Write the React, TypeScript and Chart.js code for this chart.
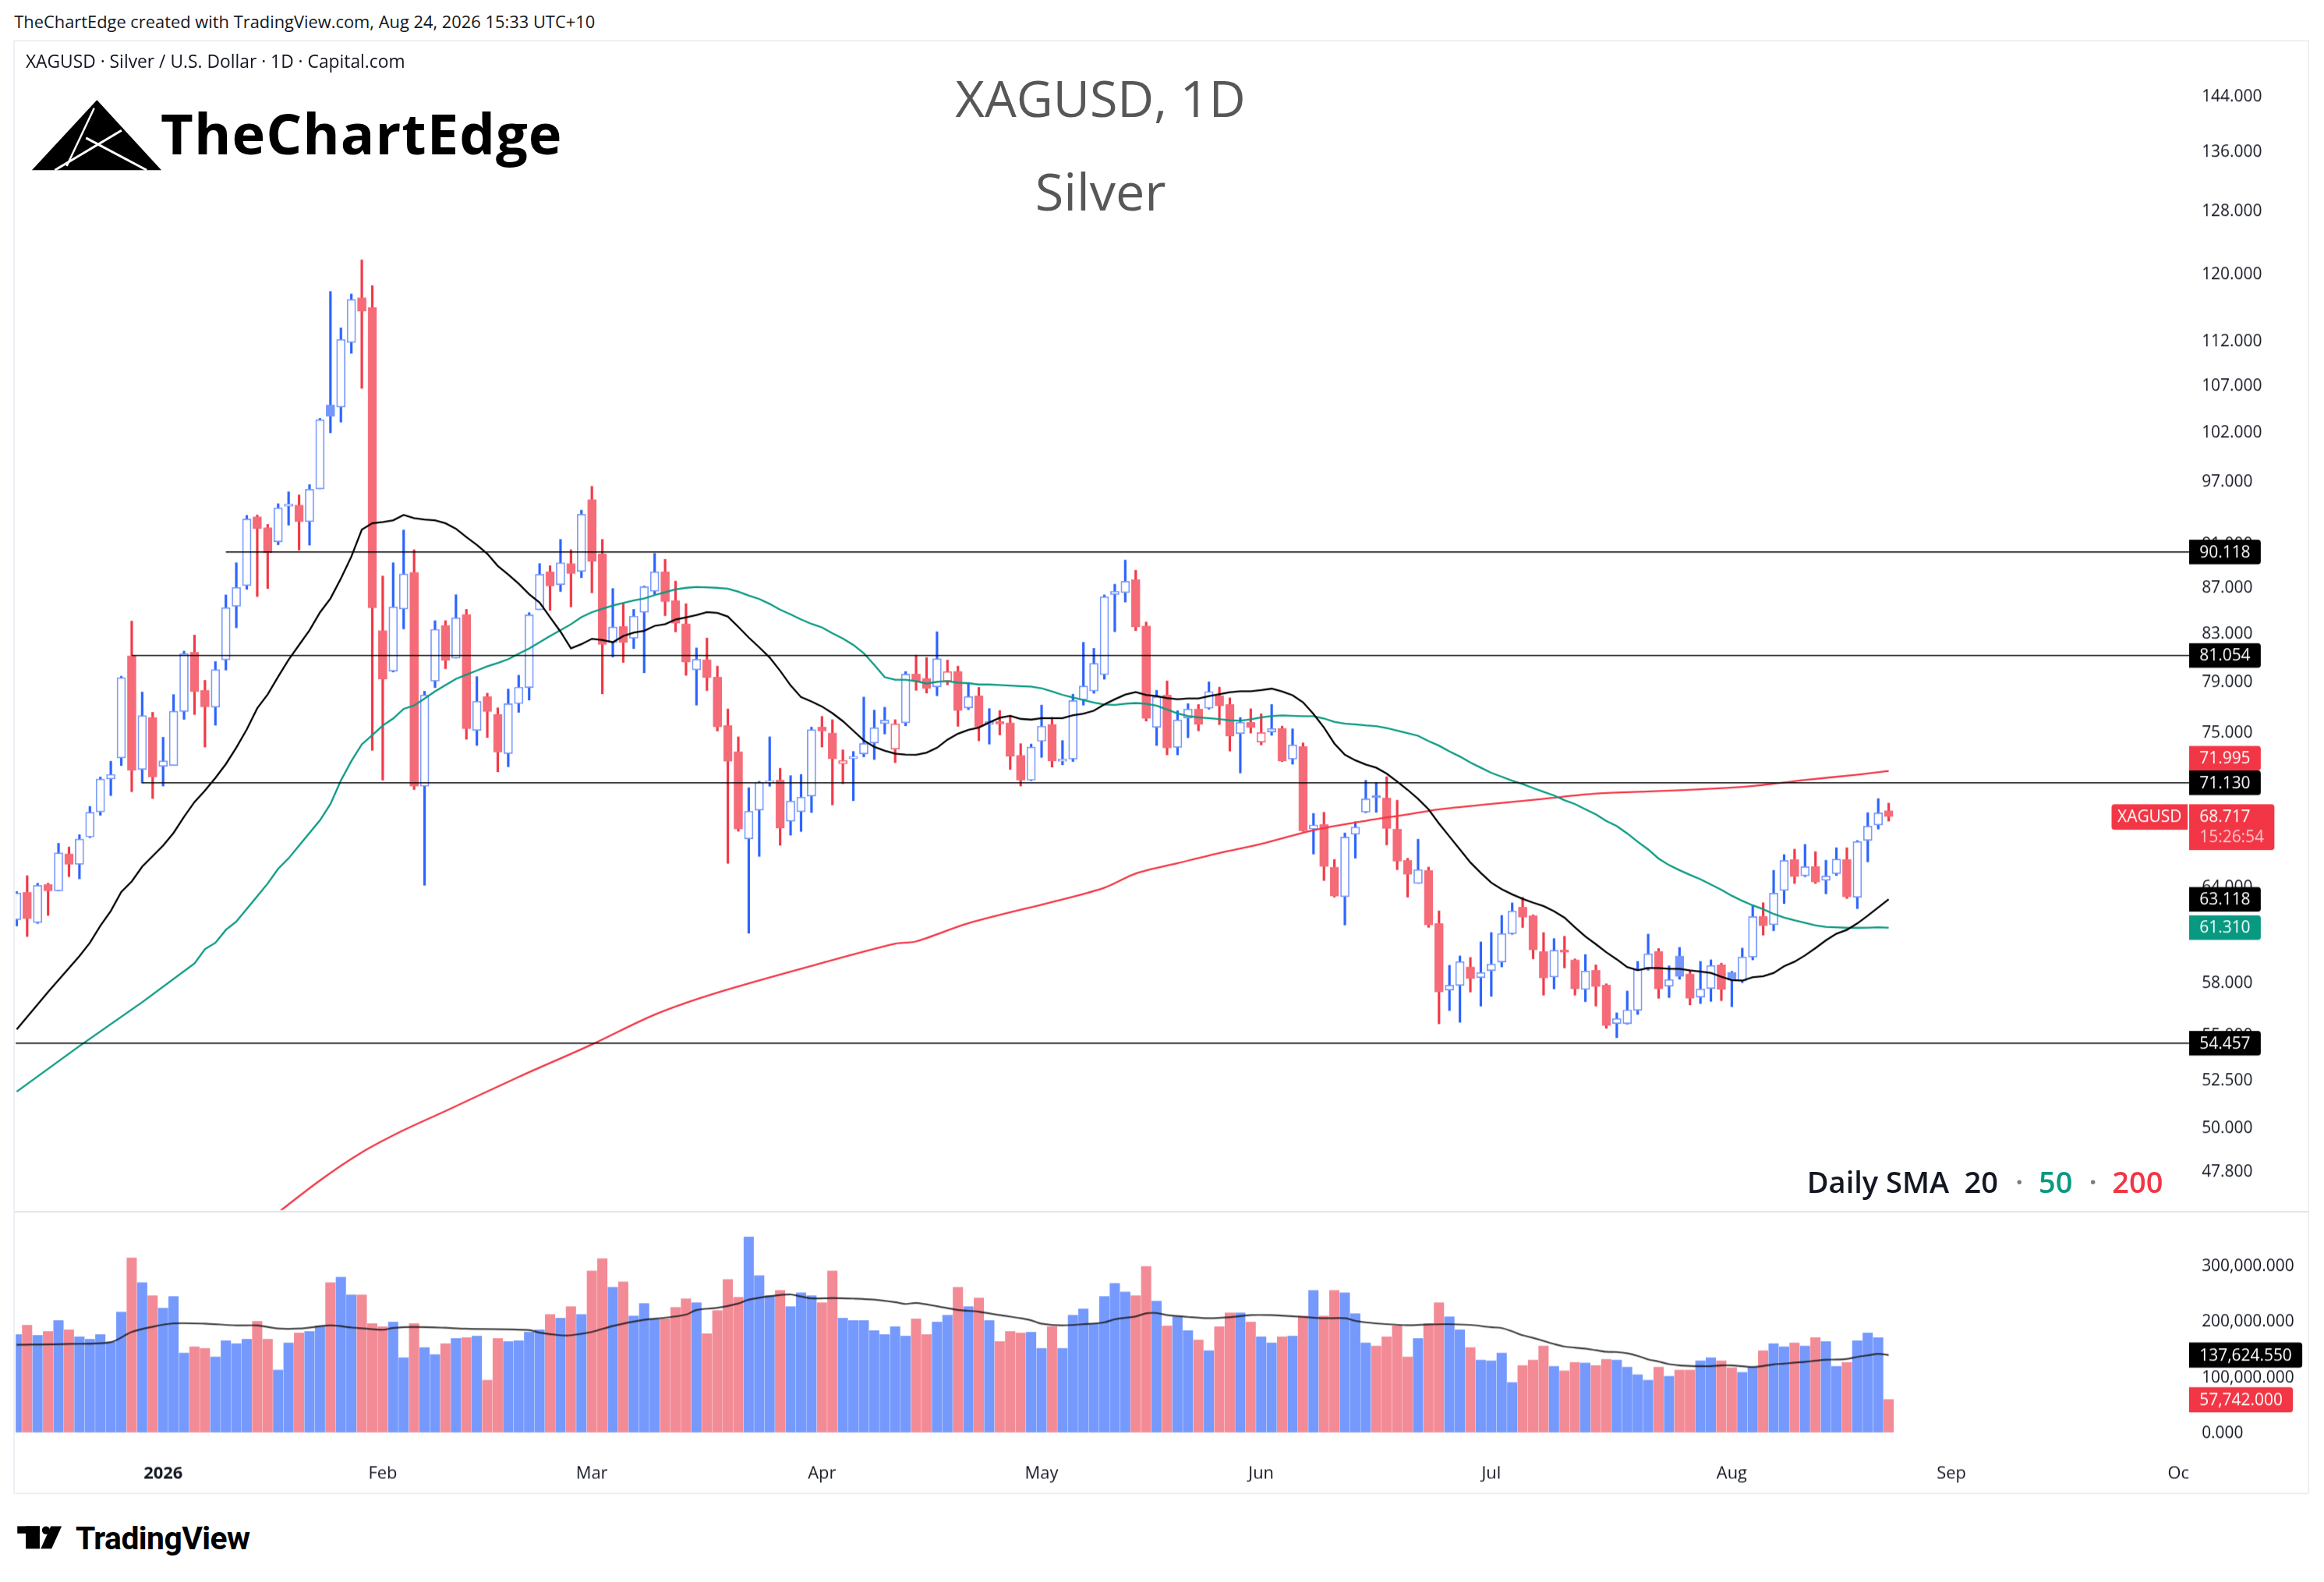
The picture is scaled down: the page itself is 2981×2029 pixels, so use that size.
import React, { useEffect, useRef } from 'react';
import { Chart, registerables } from 'chart.js';

Chart.register(...registerables);

const SCALE = 2981 / 1568;
const FONT = '"Open Sans", "DejaVu Sans", sans-serif';

// ---------- data ----------
const firstTradingDay = '2025-12-11';
const holidays = ['2025-12-25', '2026-01-01', '2026-04-03'];
const monthNames = ['Jan', 'Feb', 'Mar', 'Apr', 'May', 'Jun', 'Jul', 'Aug', 'Sep', 'Oct', 'Nov', 'Dec'];
const symbolName = 'XAGUSD';
const countdownText = '15:26:54';

const openP = [
  61.83, 63.57, 61.64, 64.07, 63.68, 66.12, 65.44, 67.30, 69.05, 71.42,
  72.98, 81.01, 72.13, 76.05, 72.36, 72.42, 76.54, 81.30, 78.19, 76.88,
  80.70, 85.26, 87.09, 93.41, 92.37, 91.10, 94.47, 94.55, 93.00, 96.16,
  104.77, 104.58, 111.75, 116.94, 115.79, 83.12, 79.77, 85.02, 88.25, 70.89,
  78.96, 83.58, 80.84, 84.52, 75.07, 77.69, 76.30, 73.30, 77.16, 78.45,
  84.95, 88.29, 87.18, 89.04, 88.37, 95.07, 89.93, 82.16, 83.47, 82.52,
  84.73, 86.59, 88.30, 85.72, 83.70, 79.89, 80.68, 79.26, 75.43, 73.42,
  67.17, 69.18, 71.14, 71.31, 68.39, 69.07, 70.18, 75.30, 74.85, 72.54,
  72.93, 73.29, 74.11, 75.59, 73.64, 75.66, 79.50, 79.15, 78.50, 78.97,
  79.72, 76.83, 77.74, 75.55, 75.61, 75.63, 73.14, 71.33, 74.24, 75.51,
  72.73, 72.89, 77.47, 78.17, 79.49, 86.29, 86.47, 87.60, 83.52, 75.31,
  77.82, 73.77, 76.03, 76.70, 76.80, 77.74, 77.06, 74.83, 75.67, 74.18,
  74.95, 75.21, 72.89, 73.81, 67.84, 68.13, 65.22, 63.30, 67.48, 69.04,
  70.10, 70.02, 67.82, 65.69, 64.17, 65.00, 61.57, 57.52, 57.80, 58.88,
  58.26, 58.68, 59.20, 60.94, 62.60, 62.05, 59.81, 58.30, 59.91, 59.31,
  57.56, 58.68, 57.80, 55.58, 55.58, 56.34, 58.83, 59.83, 57.75, 59.54,
  58.46, 57.11, 57.61, 59.00, 58.55, 58.05, 59.50, 62.02, 61.51, 63.71,
  65.74, 64.67, 65.27, 64.37, 64.81, 65.74, 63.26, 67.06, 68.13, 69.11,
];
const highP = [
  63.60, 64.65, 64.15, 64.15, 66.84, 66.58, 67.42, 69.41, 71.54, 72.70,
  79.32, 83.94, 78.05, 76.44, 74.52, 77.85, 81.40, 82.75, 79.00, 80.53,
  86.22, 89.11, 93.54, 93.58, 92.69, 94.68, 95.83, 95.54, 96.55, 103.34,
  117.70, 113.39, 117.39, 121.58, 118.40, 87.91, 89.12, 92.15, 90.31, 78.12,
  83.98, 83.98, 86.23, 84.95, 79.30, 77.96, 76.79, 78.29, 79.40, 84.66,
  89.04, 88.85, 91.28, 90.31, 94.06, 96.38, 91.28, 86.79, 85.46, 84.95,
  87.01, 89.98, 89.44, 87.45, 85.45, 81.66, 82.50, 80.15, 76.71, 74.55,
  70.76, 71.22, 74.55, 72.19, 71.63, 71.72, 75.30, 76.12, 75.87, 73.55,
  73.44, 77.64, 76.62, 76.85, 75.87, 79.71, 81.05, 80.87, 83.02, 80.66,
  80.15, 78.69, 78.42, 76.74, 76.59, 76.21, 74.02, 74.00, 77.02, 76.03,
  74.26, 77.88, 82.14, 81.62, 86.22, 87.18, 89.36, 88.44, 83.86, 78.19,
  78.94, 76.57, 77.12, 77.06, 78.86, 78.44, 77.59, 76.03, 76.72, 76.33,
  77.06, 75.37, 75.15, 74.09, 68.91, 69.00, 65.74, 67.55, 68.34, 71.30,
  71.15, 71.55, 69.85, 65.82, 67.12, 65.22, 62.36, 58.97, 59.54, 59.45,
  60.41, 60.99, 62.07, 62.87, 63.24, 62.11, 60.99, 60.61, 60.76, 59.37,
  59.63, 59.00, 57.87, 56.17, 57.44, 59.21, 60.89, 60.00, 58.94, 60.07,
  58.66, 59.21, 59.31, 59.10, 58.61, 60.02, 62.75, 62.88, 65.01, 66.07,
  66.43, 66.75, 66.27, 65.69, 66.53, 66.53, 67.03, 68.97, 69.97, 69.65,
];
const lowP = [
  61.43, 60.77, 61.59, 62.10, 63.68, 64.62, 64.48, 67.25, 68.81, 70.22,
  72.42, 70.50, 71.13, 70.01, 70.91, 72.42, 75.93, 76.31, 73.81, 75.47,
  79.86, 83.40, 86.75, 86.11, 86.83, 90.82, 92.65, 90.31, 90.78, 96.16,
  101.87, 102.99, 110.52, 106.62, 73.55, 71.34, 79.71, 83.30, 70.65, 64.05,
  78.45, 79.98, 80.84, 74.40, 73.92, 74.53, 71.96, 72.33, 76.47, 77.45,
  84.95, 84.91, 86.57, 85.21, 87.81, 86.45, 77.95, 80.94, 80.49, 81.64,
  79.64, 86.33, 84.45, 83.05, 79.43, 77.04, 78.20, 75.03, 65.50, 67.70,
  60.98, 65.97, 70.90, 66.73, 67.43, 67.68, 69.01, 73.80, 69.55, 71.08,
  69.85, 73.07, 72.87, 74.80, 72.63, 75.43, 78.23, 78.01, 77.78, 78.67,
  75.39, 76.69, 74.28, 74.02, 74.73, 72.12, 70.91, 71.29, 73.03, 72.30,
  72.47, 72.72, 77.04, 77.99, 79.12, 83.08, 85.63, 83.15, 75.79, 73.92,
  73.22, 73.22, 74.51, 75.04, 76.72, 75.52, 73.50, 71.86, 74.87, 73.97,
  74.70, 72.70, 72.51, 67.68, 66.13, 64.36, 63.28, 61.49, 65.86, 68.99,
  69.02, 66.76, 65.08, 63.28, 64.17, 61.34, 55.56, 56.32, 55.65, 57.41,
  56.59, 57.15, 58.91, 60.90, 61.33, 59.40, 57.22, 57.59, 58.85, 57.22,
  56.85, 56.59, 55.31, 54.78, 55.54, 56.10, 58.70, 57.04, 57.09, 58.17,
  56.65, 56.73, 56.86, 56.90, 56.55, 57.96, 59.33, 60.86, 61.14, 62.86,
  64.17, 64.61, 64.17, 63.49, 64.70, 63.19, 62.53, 65.60, 67.85, 68.40,
];
const closeP = [
  63.51, 61.88, 64.01, 63.68, 66.18, 65.44, 67.13, 68.99, 71.39, 71.73,
  79.21, 72.07, 76.18, 71.57, 72.73, 76.54, 81.19, 78.12, 76.91, 79.86,
  85.11, 86.90, 93.21, 92.33, 90.08, 94.27, 94.51, 93.00, 96.08, 103.20,
  103.60, 112.04, 116.74, 115.40, 85.13, 79.13, 85.17, 88.10, 70.89, 77.82,
  83.23, 80.67, 84.23, 75.20, 77.32, 76.53, 73.42, 77.12, 78.45, 84.48,
  88.06, 87.05, 89.12, 88.17, 93.66, 89.27, 81.99, 83.44, 82.16, 84.37,
  86.94, 88.30, 85.68, 83.80, 80.52, 80.71, 79.24, 75.34, 72.74, 67.84,
  69.07, 71.16, 71.20, 67.92, 69.80, 70.08, 75.10, 75.02, 72.91, 72.76,
  72.98, 74.04, 75.25, 75.84, 75.54, 79.50, 78.91, 78.37, 80.76, 79.70,
  76.62, 77.69, 75.37, 75.73, 75.57, 73.11, 71.33, 73.77, 75.37, 72.76,
  72.78, 77.37, 78.54, 80.38, 86.06, 86.54, 87.44, 83.48, 76.01, 77.68,
  73.73, 75.85, 76.70, 75.53, 78.09, 76.98, 74.63, 75.67, 75.29, 74.87,
  75.19, 72.76, 73.94, 67.73, 68.11, 65.29, 63.34, 67.26, 67.96, 69.95,
  70.06, 67.89, 65.65, 64.77, 65.05, 61.49, 57.41, 57.78, 59.20, 58.20,
  58.54, 59.05, 60.92, 62.35, 61.98, 59.94, 58.24, 59.89, 59.80, 57.59,
  58.63, 57.73, 55.47, 55.84, 56.34, 58.73, 59.67, 57.59, 58.12, 58.33,
  57.04, 57.56, 58.96, 57.55, 58.12, 59.48, 62.00, 61.44, 63.50, 65.67,
  64.61, 65.25, 64.25, 64.63, 65.76, 63.29, 66.96, 68.02, 68.95, 68.717,
];
// volume in millions
const volumeM = [
  174.0, 190.6, 172.6, 179.5, 198.9, 182.3, 169.8, 165.7, 174.0, 160.6,
  214.1, 311.1, 266.7, 243.2, 221.1, 241.8, 140.8, 151.8, 149.1, 133.8,
  162.9, 157.4, 165.7, 197.5, 165.7, 110.3, 158.8, 176.8, 179.5, 188.8,
  266.7, 276.4, 244.6, 244.6, 193.4, 187.8, 196.1, 132.5, 193.4, 150.4,
  138.0, 157.4, 167.1, 168.4, 171.2, 92.3, 167.1, 161.5, 162.9, 178.1,
  182.3, 210.0, 203.1, 223.8, 210.0, 287.5, 309.7, 258.4, 268.1, 207.2,
  229.4, 201.7, 201.7, 222.4, 237.7, 230.8, 175.4, 216.9, 272.3, 240.4,
  348.4, 279.2, 243.7, 252.9, 223.8, 248.7, 243.2, 230.8, 287.5, 203.1,
  198.9, 198.9, 180.9, 174.0, 187.8, 171.2, 201.7, 174.0, 196.1, 208.6,
  258.4, 223.8, 239.1, 198.9, 161.5, 179.5, 176.8, 178.1, 149.1, 187.8,
  149.1, 208.6, 219.7, 193.4, 241.8, 265.4, 250.1, 243.2, 295.8, 233.5,
  189.2, 205.8, 180.9, 164.3, 144.9, 187.8, 212.8, 212.8, 196.1, 169.8,
  158.8, 169.8, 171.2, 207.2, 252.9, 207.2, 252.9, 248.7, 211.4, 158.8,
  153.2, 169.8, 189.2, 133.8, 167.1, 193.4, 230.8, 205.8, 182.3, 150.4,
  128.3, 126.9, 140.8, 88.1, 118.6, 128.3, 153.2, 117.2, 108.9, 124.1,
  122.8, 118.6, 129.7, 128.3, 115.8, 102.0, 92.3, 115.8, 99.2, 110.3,
  110.3, 126.9, 132.5, 126.9, 114.5, 106.1, 115.8, 144.9, 157.4, 151.8,
  158.8, 153.2, 168.4, 161.5, 117.2, 124.1, 162.9, 176.8, 168.4, 57.742,
];
const sma20 = [
  55.24, null, null, 57.4, null, null, 59.55, 60.37, 61.43, 62.37,
  63.60, 64.29, 65.27, 65.98, 66.70, 67.57, 68.69, 69.74, 70.56, 71.49,
  72.51, 73.74, 75.13, 76.78, 77.88, 79.31, 80.70, 81.93, 83.18, 84.71,
  85.93, 87.70, 89.70, 92.22, 92.82, 92.94, 93.10, 93.62, 93.30, 93.18,
  93.10, 92.82, 92.30, 91.51, 90.78, 89.96, 88.85, 88.06, 87.24, 86.31,
  85.57, 84.30, 83.05, 81.64, 82.00, 82.45, 82.34, 82.16, 82.69, 82.98,
  83.13, 83.55, 83.69, 84.10, 84.28, 84.48, 84.74, 84.66, 84.35, 83.47,
  82.55, 81.73, 80.88, 79.79, 78.60, 77.66, 77.31, 76.92, 76.39, 75.77,
  75.03, 74.29, 73.80, 73.51, 73.29, 73.22, 73.20, 73.36, 73.73, 74.35,
  74.80, 75.10, 75.28, 75.67, 76.03, 76.19, 75.95, 75.89, 76.01, 76.01,
  76.01, 76.23, 76.35, 76.59, 77.08, 77.49, 77.86, 78.07, 77.84, 77.74,
  77.59, 77.49, 77.55, 77.55, 77.74, 77.90, 78.05, 78.13, 78.13, 78.22,
  78.34, 78.11, 77.81, 77.25, 76.33, 75.28, 74.05, 73.20, 72.79, 72.47,
  72.24, 71.80, 71.22, 70.62, 69.97, 69.22, 68.22, 67.32, 66.43, 65.55,
  64.85, 64.20, 63.78, 63.44, 63.15, 62.90, 62.68, 62.35, 61.94, 61.33,
  60.76, 60.28, 59.78, 59.35, 58.88, 58.69, 58.82, 58.82, 58.77, 58.77,
  58.68, 58.61, 58.53, 58.30, 58.10, 58.07, 58.27, 58.33, 58.53, 58.93,
  59.21, 59.59, 60.04, 60.52, 60.93, 61.17, 61.58, 62.07, 62.60, 63.118,
];
const sma50 = [
  51.82, null, null, null, null, null, 54.30, null, null, null,
  null, null, 56.80, null, null, null, null, 59.10, 59.98, 60.37,
  61.17, 61.70, 62.50, 63.32, 64.15, 65.13, 65.83, 66.70, 67.57, 68.45,
  69.60, 71.30, 72.73, 73.99, 74.69, 75.43, 75.98, 76.73, 77.00, 77.55,
  78.12, 78.62, 79.13, 79.47, 79.81, 80.15, 80.43, 80.74, 81.19, 81.64,
  82.16, 82.69, 83.19, 83.69, 84.30, 84.73, 85.02, 85.31, 85.53, 85.75,
  85.93, 86.23, 86.48, 86.74, 86.87, 86.95, 86.92, 86.87, 86.79, 86.53,
  86.19, 85.89, 85.45, 84.94, 84.54, 84.10, 83.72, 83.42, 82.92, 82.47,
  81.93, 81.24, 80.27, 79.27, 79.06, 79.06, 78.94, 78.75, 78.89, 78.94,
  78.82, 78.78, 78.67, 78.67, 78.63, 78.58, 78.54, 78.50, 78.37, 78.11,
  77.84, 77.63, 77.43, 77.23, 77.08, 77.04, 77.14, 77.19, 77.14, 76.98,
  76.68, 76.37, 76.17, 76.07, 76.01, 75.93, 75.83, 75.81, 75.91, 76.07,
  76.17, 76.21, 76.18, 76.15, 76.15, 75.98, 75.72, 75.58, 75.52, 75.44,
  75.38, 75.24, 75.04, 74.84, 74.64, 74.24, 73.89, 73.46, 73.07, 72.62,
  72.24, 71.86, 71.57, 71.28, 71.04, 70.75, 70.47, 70.21, 69.87, 69.60,
  69.22, 68.86, 68.40, 68.04, 67.53, 66.96, 66.43, 65.81, 65.37, 65.03,
  64.72, 64.43, 64.08, 63.74, 63.35, 63.02, 62.73, 62.48, 62.18, 61.95,
  61.77, 61.61, 61.46, 61.36, 61.33, 61.30, 61.30, 61.31, 61.33, 61.31,
];
const sma200Idx = [24, 29, 33, 37, 41, 48, 55, 61, 67, 77, 84, 86, 91, 100, 104, 107, 111, 115, 119, 124, 129, 133, 136, 141, 146, 151, 156, 161, 166, 171, 176, 179];
const sma200Val = [45.40, 47.31, 48.69, 49.81, 50.80, 52.61, 54.39, 56.08, 57.36, 59.13, 60.31, 60.45, 61.59, 63.11, 63.87, 64.81, 65.50, 66.19, 66.81, 67.75, 68.41, 68.86, 69.22, 69.60, 69.97, 70.34, 70.50, 70.66, 70.90, 71.34, 71.72, 71.995];
const volMaIdx = [
  0, 5, 9, 11, 13, 15, 18, 21, 23, 25, 27, 30, 32, 35, 36, 38, 41, 43, 49, 50,
  52, 53, 55, 57, 60, 62, 64, 65, 67, 69, 70, 72, 74, 75, 76, 78, 80, 82, 84, 85,
  86, 88, 90, 92, 94, 96, 97, 98, 100, 102, 104, 105, 107, 108, 109, 110, 112, 114, 116, 118,
  120, 121, 123, 125, 127, 128, 129, 131, 133, 135, 137, 139, 141, 142, 143, 144, 145, 146, 147, 148,
  149, 150, 151, 152, 153, 154, 155, 156, 157, 158, 159, 160, 161, 162, 163, 164, 165, 166, 167, 168,
  169, 170, 171, 172, 173, 174, 175, 176, 177, 178, 179,
];
const volMaVal = [
  156.0, 157.5, 160.6, 179.0, 188.3, 194.3, 193.8, 190.6, 190.6, 185.0, 185.0, 190.6, 187.0, 182.8, 186.0, 187.8, 186.4, 184.6, 182.3, 177.7,
  173.0, 173.0, 179.0, 189.7, 200.7, 204.4, 210.0, 218.3, 222.0, 229.8, 236.7, 242.7, 246.0, 242.3, 239.0, 239.5, 238.6, 236.7, 232.1, 228.9,
  230.8, 224.8, 218.3, 215.1, 209.1, 203.5, 199.8, 193.8, 190.6, 192.9, 196.1, 201.7, 206.8, 212.3, 212.8, 209.1, 205.8, 203.5, 205.4, 209.1,
  209.1, 208.1, 205.8, 203.5, 203.5, 198.9, 196.1, 192.9, 191.1, 192.4, 192.9, 191.5, 187.4, 186.0, 180.0, 173.0, 168.4, 162.9, 157.4, 152.8,
  150.9, 149.1, 146.3, 143.5, 143.0, 140.8, 136.1, 129.7, 126.0, 121.4, 119.1, 118.1, 117.7, 117.7, 119.1, 119.1, 117.7, 116.3, 118.1, 120.9,
  122.3, 124.1, 125.5, 127.4, 129.2, 129.5, 130.6, 134.3, 137.1, 139.8, 137.62455,
];
const levelValues = [90.118, 81.054, 71.13, 54.457];
const levelStart = [20, 11, 12, -1];
const priceTicks = [144, 136, 128, 120, 112, 107, 102, 97, 91, 87, 83, 79, 75, 71, 67, 64, 61, 58, 55, 52.5, 50, 47.8];
const volumeTicks = [0, 100, 200, 300];

// ---------- styling ----------
const UP_WICK = '#2962ff';
const DOWN_WICK = '#f23645';
const UP_BODY = '#7597fb';
const DOWN_BODY = '#f56b78';
const UP_VOL = '#7599fc';
const DOWN_VOL = '#f28b96';
const TXT = '#131722';

const X_MIN = -0.092;
const X_MAX = 207.73;
const Y_MIN = 45.89;
const Y_MAX = 151.99;
const V_MIN = -24.05;
const V_MAX = 390.96;
const AXIS_W = 81;

function buildDates(count: number): string[] {
  const out: string[] = [];
  const [y, m, d] = firstTradingDay.split('-').map(Number);
  const cur = new Date(Date.UTC(y, m - 1, d));
  while (out.length < count) {
    const wd = cur.getUTCDay();
    const iso = cur.toISOString().slice(0, 10);
    if (wd !== 0 && wd !== 6 && !holidays.includes(iso)) out.push(iso);
    cur.setUTCDate(cur.getUTCDate() + 1);
  }
  return out;
}

function fixAxis(scale: any) {
  scale.width = AXIS_W;
  scale.paddingTop = 0;
  scale.paddingBottom = 0;
}

const fmtPrice = (v: number) => v.toFixed(3);
const fmtVol = (v: number) =>
  (v * 1000).toLocaleString('en-US', { minimumFractionDigits: 3, maximumFractionDigits: 3 });

function drawBox(ctx: CanvasRenderingContext2D, x: number, top: number, w: number, h: number, bg: string, radii: number[]) {
  ctx.fillStyle = bg;
  ctx.beginPath();
  if ((ctx as any).roundRect) (ctx as any).roundRect(x, top, w, h, radii);
  else ctx.rect(x, top, w, h);
  ctx.fill();
}

type BoxItem = { value: number; bg: string; text: string; extra?: string; tag?: string; y?: number };

function resolve(items: BoxItem[], h: number) {
  items.sort((a, b) => (a.y as number) - (b.y as number));
  for (let k = items.length - 2; k >= 0; k--) {
    const below = items[k + 1].y as number;
    if ((items[k].y as number) > below - h) items[k].y = below - h;
  }
}

export default function App() {
  const priceRef = useRef<HTMLCanvasElement | null>(null);
  const volRef = useRef<HTMLCanvasElement | null>(null);

  useEffect(() => {
    const n = closeP.length;
    const last = n - 1;
    const dates = buildDates(212);
    const monthTicks: { i: number; label: string; bold: boolean }[] = [];
    for (let i = 1; i < dates.length; i++) {
      const m0 = Number(dates[i - 1].slice(5, 7));
      const m1 = Number(dates[i].slice(5, 7));
      if (m0 !== m1) {
        const isYear = m1 === 1;
        monthTicks.push({ i, label: isYear ? dates[i].slice(0, 4) : monthNames[m1 - 1], bold: isYear });
      }
    }

    const isUp = closeP.map((c, i) => (i === 0 ? true : c >= closeP[i - 1]));
    const hollow = closeP.map((c, i) => c >= openP[i]);
    const wickColors = isUp.map((u) => (u ? UP_WICK : DOWN_WICK));
    const bodyColors = isUp.map((u) => (u ? UP_BODY : DOWN_BODY));
    const bodyFill = bodyColors.map((c, i) => (hollow[i] ? '#ffffff' : c));
    const volColors = hollow.map((h) => (h ? UP_VOL : DOWN_VOL));

    const series = (arr: (number | null)[]) =>
      arr.map((v, i) => (v == null ? null : { x: i, y: v })).filter(Boolean) as { x: number; y: number }[];
    const sparse = (idx: number[], val: number[]) => idx.map((x, k) => ({ x, y: val[k] }));

    const lastSma200 = sma200Val[sma200Val.length - 1];
    const lastSma20 = sma20[last] as number;
    const lastSma50 = sma50[last] as number;
    const lastVolMa = volMaVal[volMaVal.length - 1];

    const priceBoxes: BoxItem[] = [
      ...levelValues.map((v) => ({ value: v, bg: '#000000', text: fmtPrice(v) })),
      { value: lastSma200, bg: '#f23645', text: fmtPrice(lastSma200) },
      { value: closeP[last], bg: '#f23645', text: fmtPrice(closeP[last]), extra: countdownText, tag: symbolName },
      { value: lastSma20, bg: '#000000', text: fmtPrice(lastSma20) },
      { value: lastSma50, bg: '#089981', text: fmtPrice(lastSma50) },
    ];

    const BOX_H = 16.6;
    const priceLabels = {
      id: 'priceLabels',
      afterDraw(chart: any) {
        const ctx: CanvasRenderingContext2D = chart.ctx;
        const ys = chart.scales.y;
        const right = chart.chartArea.right;
        const items = priceBoxes.map((b) => ({ ...b, y: ys.getPixelForValue(b.value) }));
        resolve(items, BOX_H);
        ctx.save();
        ctx.font = `500 11px ${FONT}`;
        ctx.textBaseline = 'middle';
        for (const it of items) {
          const y = it.y as number;
          const w1 = ctx.measureText(it.text).width;
          const w2 = it.extra ? ctx.measureText(it.extra).width : 0;
          const w = Math.max(w1, w2) + 14;
          const h = it.extra ? 31 : BOX_H;
          const top = y - BOX_H / 2;
          drawBox(ctx, right, top, w, h, it.bg, [0, 2, 2, 0]);
          ctx.fillStyle = '#ffffff';
          ctx.textAlign = 'left';
          ctx.fillText(it.text, right + 7, y + 0.5);
          if (it.extra) {
            ctx.fillStyle = 'rgba(255,255,255,0.72)';
            ctx.fillText(it.extra, right + 7, y + 14.5);
          }
          if (it.tag) {
            const tw = ctx.measureText(it.tag).width + 8;
            drawBox(ctx, right - tw - 1, top, tw, 17.3, it.bg, [2, 0, 0, 2]);
            ctx.fillStyle = '#ffffff';
            ctx.textAlign = 'center';
            ctx.fillText(it.tag, right - 1 - tw / 2, y + 0.5);
          }
        }
        ctx.restore();
      },
    };

    const volBoxes: BoxItem[] = [
      { value: lastVolMa, bg: '#000000', text: fmtVol(lastVolMa) },
      { value: volumeM[last], bg: '#f23645', text: fmtVol(volumeM[last]) },
    ];
    const volLabels = {
      id: 'volLabels',
      afterDraw(chart: any) {
        const ctx: CanvasRenderingContext2D = chart.ctx;
        const ys = chart.scales.y;
        const xs = chart.scales.x;
        const area = chart.chartArea;
        const right = area.right;
        ctx.save();
        ctx.beginPath();
        ctx.rect(area.left, area.bottom, right - area.left, 40);
        ctx.clip();
        ctx.textBaseline = 'middle';
        ctx.textAlign = 'center';
        ctx.fillStyle = TXT;
        for (const t of monthTicks) {
          ctx.font = `${t.bold ? '700 ' : ''}11.5px ${FONT}`;
          ctx.fillText(t.label, xs.getPixelForValue(t.i), area.bottom + 19);
        }
        ctx.restore();

        ctx.save();
        ctx.font = `500 11px ${FONT}`;
        ctx.textBaseline = 'middle';
        ctx.textAlign = 'left';
        const items = volBoxes.map((b) => ({ ...b, y: ys.getPixelForValue(b.value) }));
        resolve(items, 17);
        for (const it of items) {
          const y = it.y as number;
          const w = ctx.measureText(it.text).width + 14;
          drawBox(ctx, right, y - 8.5, w, 17, it.bg, [0, 2, 2, 0]);
          ctx.fillStyle = '#ffffff';
          ctx.fillText(it.text, right + 7, y + 0.5);
        }
        ctx.restore();
      },
    };

    const common = {
      animation: false as const,
      responsive: true,
      maintainAspectRatio: false,
      devicePixelRatio: SCALE,
      events: [] as any[],
      plugins: { legend: { display: false }, tooltip: { enabled: false } },
    };

    const priceChart = new Chart(priceRef.current as HTMLCanvasElement, {
      type: 'bar',
      data: {
        datasets: [
          ...levelValues.map((v, k) => ({
            type: 'line' as const,
            data: [{ x: levelStart[k], y: v }, { x: X_MAX, y: v }],
            borderColor: '#000000',
            borderWidth: 0.8,
            pointRadius: 0,
            order: -2,
          })),
          {
            type: 'line' as const,
            data: series(sma20),
            borderColor: '#000000',
            borderWidth: 1.2,
            pointRadius: 0,
            tension: 0,
            spanGaps: true,
            order: -1,
          },
          {
            type: 'line' as const,
            data: series(sma50),
            borderColor: '#089981',
            borderWidth: 1.2,
            pointRadius: 0,
            tension: 0,
            spanGaps: true,
            order: -1,
          },
          {
            type: 'line' as const,
            data: sparse(sma200Idx, sma200Val),
            borderColor: '#f23645',
            borderWidth: 1.2,
            pointRadius: 0,
            tension: 0.3,
            order: -1,
          },
          {
            type: 'bar' as const,
            data: closeP.map((c, i) => ({ x: i, y: [openP[i], c] })) as any,
            backgroundColor: bodyFill,
            borderColor: bodyColors,
            borderWidth: 0.9,
            borderSkipped: false,
            barThickness: 5.5,
            minBarLength: 1.2,
            grouped: false,
            order: 1,
          },
          {
            type: 'bar' as const,
            data: closeP.map((_, i) => ({ x: i, y: [lowP[i], highP[i]] })) as any,
            backgroundColor: wickColors,
            borderWidth: 0,
            barThickness: 1,
            grouped: false,
            order: 2,
          },
        ] as any,
      },
      options: {
        ...common,
        layout: { padding: 0 },
        scales: {
          x: { type: 'linear', min: X_MIN, max: X_MAX, display: false, offset: false },
          y: {
            type: 'logarithmic',
            position: 'right',
            min: Y_MIN,
            max: Y_MAX,
            grid: { display: false, drawTicks: false },
            border: { display: false },
            afterBuildTicks: (s: any) => {
              s.ticks = priceTicks.map((v) => ({ value: v }));
            },
            afterFit: fixAxis,
            ticks: {
              autoSkip: false,
              padding: 8.5,
              labelOffset: 1.2,
              color: TXT,
              font: { family: FONT, size: 11 },
              callback: (v: any) => fmtPrice(Number(v)),
            },
          },
        },
      } as any,
      plugins: [priceLabels],
    });

    const volChart = new Chart(volRef.current as HTMLCanvasElement, {
      type: 'bar',
      data: {
        datasets: [
          {
            type: 'line' as const,
            data: sparse(volMaIdx, volMaVal),
            borderColor: 'rgba(20,20,20,0.8)',
            borderWidth: 1.15,
            pointRadius: 0,
            tension: 0.3,
            order: -1,
          },
          {
            type: 'bar' as const,
            data: volumeM.map((v, i) => ({ x: i, y: v })),
            backgroundColor: volColors,
            borderWidth: 0,
            barThickness: 6.2,
            grouped: false,
            order: 1,
          },
        ] as any,
      },
      options: {
        ...common,
        layout: { padding: { top: 0, left: 0, right: 0, bottom: 32 } },
        scales: {
          x: { type: 'linear', min: X_MIN, max: X_MAX, display: false, offset: false },
          y: {
            type: 'linear',
            position: 'right',
            min: V_MIN,
            max: V_MAX,
            grid: { display: false, drawTicks: false },
            border: { display: false },
            afterBuildTicks: (s: any) => {
              s.ticks = volumeTicks.map((v) => ({ value: v }));
            },
            afterFit: fixAxis,
            ticks: {
              autoSkip: false,
              padding: 8.5,
              labelOffset: 1.2,
              color: TXT,
              font: { family: FONT, size: 11 },
              callback: (v: any) => fmtVol(Number(v)),
            },
          },
        },
      } as any,
      plugins: [volLabels],
    });

    return () => {
      priceChart.destroy();
      volChart.destroy();
    };
  }, []);

  const txt = (
    x: number,
    baseline: number,
    size: number,
    content: React.ReactNode,
    opts: { weight?: number; color?: string; align?: 'left' | 'center' | 'right'; family?: string; asc?: number; ls?: number } = {}
  ) => {
    const asc = opts.asc ?? 0.888;
    const tr = opts.align === 'center' ? 'translateX(-50%)' : opts.align === 'right' ? 'translateX(-100%)' : undefined;
    return (
      <div
        style={{
          position: 'absolute',
          left: x,
          top: baseline - asc * size,
          fontSize: size,
          lineHeight: `${size}px`,
          fontWeight: opts.weight ?? 400,
          color: opts.color ?? TXT,
          fontFamily: opts.family ?? FONT,
          whiteSpace: 'pre',
          letterSpacing: opts.ls ?? 0,
          transform: tr,
        }}
      >
        {content}
      </div>
    );
  };

  return (
    <div
      style={{
        position: 'absolute',
        left: 0,
        top: 0,
        width: 1568,
        height: 1067,
        transform: `scale(${SCALE})`,
        transformOrigin: '0 0',
        background: '#ffffff',
        overflow: 'hidden',
      }}
    >
      {txt(9.6, 18.8, 11.5, 'TheChartEdge created with TradingView.com, Aug 24, 2026 15:33 UTC+10')}
      <div
        style={{
          position: 'absolute',
          left: 9.4,
          top: 26.7,
          width: 1548.4,
          height: 981,
          border: '1px solid #eceff3',
          boxSizing: 'border-box',
        }}
      />
      <div style={{ position: 'absolute', left: 9.5, top: 817, width: 1548, height: 1, background: '#e0e3eb' }} />
      <div style={{ position: 'absolute', left: 9.5, top: 28, width: 1548, height: 789 }}>
        <canvas ref={priceRef} />
      </div>
      <div style={{ position: 'absolute', left: 9.5, top: 818, width: 1548, height: 189 }}>
        <canvas ref={volRef} />
      </div>

      {txt(17.3, 46.8, 12, 'XAGUSD · Silver / U.S. Dollar · 1D · Capital.com')}
      {txt(742.5, 78.9, 34, 'XAGUSD, 1D', { align: 'center', color: '#575757' })}
      {txt(742.5, 142, 35, 'Silver', { align: 'center', color: '#575757' })}
      {txt(108.4, 103.5, 38, 'TheChartEdge', { weight: 700, color: '#000000', ls: 0.55 })}
      {txt(
        1459.4,
        805.5,
        20,
        <>
          <span>Daily SMA</span>
          <span style={{ marginLeft: 10.2 }}>20</span>
          <span style={{ marginLeft: 11.5, color: '#787b86' }}>·</span>
          <span style={{ marginLeft: 10.4, color: '#089981' }}>50</span>
          <span style={{ marginLeft: 11, color: '#787b86' }}>·</span>
          <span style={{ marginLeft: 10.2, color: '#f23645' }}>200</span>
        </>,
        { weight: 600, align: 'right' }
      )}
      {txt(51, 1044.8, 21.5, 'TradingView', { weight: 700, color: '#000000', family: 'Roboto, "Open Sans", sans-serif', asc: 0.842, ls: -0.3 })}

      <svg
        width={1568}
        height={1067}
        viewBox="0 0 1568 1067"
        style={{ position: 'absolute', left: 0, top: 0, pointerEvents: 'none' }}
      >
        <polygon points="65.4,67.5 21.5,114.8 108.9,114.8" fill="#000000" />
        <line x1="63.5" y1="73" x2="45" y2="112" stroke="#ffffff" strokeWidth="1.3" />
        <line x1="82" y1="88" x2="37" y2="114.8" stroke="#ffffff" strokeWidth="1.6" />
        <line x1="58" y1="93" x2="99" y2="114.8" stroke="#ffffff" strokeWidth="1.6" />
        <rect x="11.7" y="1029.6" width="15.1" height="4.9" fill="#000000" />
        <rect x="17.4" y="1029.6" width="9.4" height="15.2" fill="#000000" />
        <circle cx="31" cy="1032.3" r="2.7" fill="#000000" />
        <polygon points="34.3,1029.6 41.6,1029.6 34.8,1044.8 27.5,1044.8" fill="#000000" />
      </svg>
    </div>
  );
}
